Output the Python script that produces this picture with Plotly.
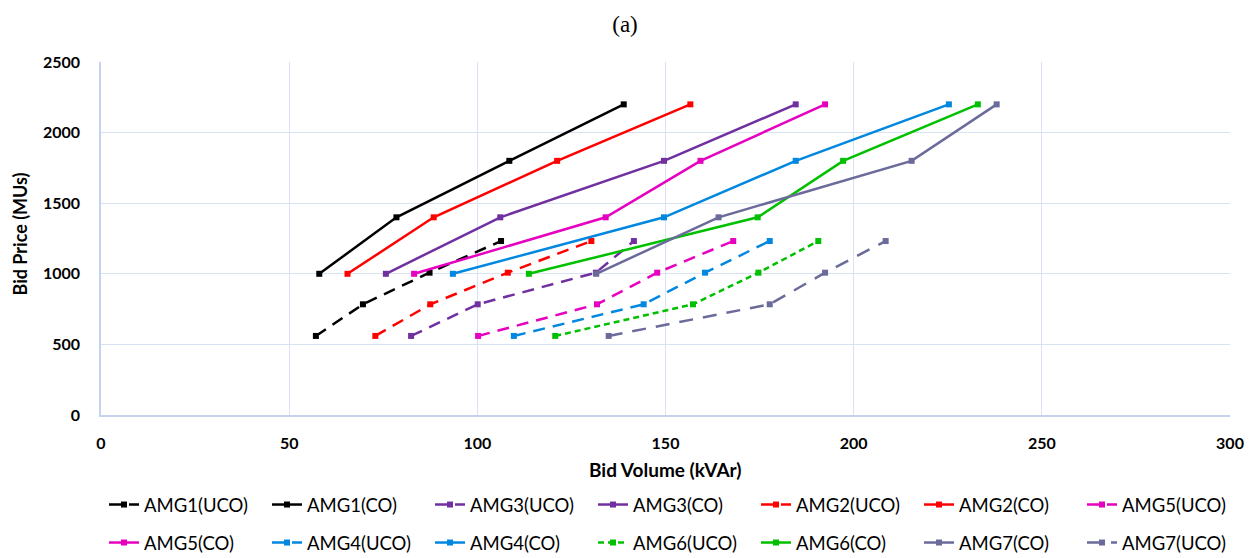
import plotly.graph_objects as go

# Bid price levels
price_co = [1000, 1400, 1800, 2200]
price_uco = [560, 784, 1008, 1232]

# Bid volumes (kVAr)
amg1_uco = [57.1, 69.6, 87.3, 106.3]
amg1_co = [58.0, 78.5, 108.5, 138.9]
amg3_uco = [82.4, 100.1, 131.5, 141.6]
amg3_co = [75.7, 106.1, 149.6, 184.6]
amg2_uco = [72.9, 87.5, 108.1, 130.3]
amg2_co = [65.5, 88.4, 121.2, 156.6]
amg5_uco = [100.2, 131.8, 147.8, 168.0]
amg5_co = [83.2, 134.1, 159.3, 192.4]
amg4_uco = [109.7, 144.2, 160.5, 177.7]
amg4_co = [93.5, 149.6, 184.6, 225.3]
amg6_uco = [120.7, 157.3, 174.7, 190.6]
amg6_co = [113.7, 174.5, 197.2, 233.0]
amg7_co = [131.6, 164.1, 215.4, 238.0]
amg7_uco = [134.9, 177.7, 192.4, 208.5]

BLACK = "#000000"
RED = "#FF0000"
PURPLE = "#7030A0"
MAGENTA = "#E600C0"
BLUE = "#0088E0"
GREEN = "#00C000"
GRAY = "#6B6B9B"

series = [
    ("AMG1(UCO)", amg1_uco, price_uco, BLACK, "12px,8px"),
    ("AMG1(CO)", amg1_co, price_co, BLACK, "solid"),
    ("AMG3(UCO)", amg3_uco, price_uco, PURPLE, "12px,8px"),
    ("AMG3(CO)", amg3_co, price_co, PURPLE, "solid"),
    ("AMG2(UCO)", amg2_uco, price_uco, RED, "12px,8px"),
    ("AMG2(CO)", amg2_co, price_co, RED, "solid"),
    ("AMG5(UCO)", amg5_uco, price_uco, MAGENTA, "12px,8px"),
    ("AMG5(CO)", amg5_co, price_co, MAGENTA, "solid"),
    ("AMG4(UCO)", amg4_uco, price_uco, BLUE, "12px,8px"),
    ("AMG4(CO)", amg4_co, price_co, BLUE, "solid"),
    ("AMG6(UCO)", amg6_uco, price_uco, GREEN, "6px,4px"),
    ("AMG6(CO)", amg6_co, price_co, GREEN, "solid"),
    ("AMG7(CO)", amg7_co, price_co, GRAY, "solid"),
    ("AMG7(UCO)", amg7_uco, price_uco, GRAY, "14px,10px"),
]

# The page body adds an 8px offset; figure is sized to compensate.
W, H = 1245, 550
OFF = 8
PL, PR, PT, PB = 101, 1230, 62, 415   # plot area in page pixels
PW, PH = PR - PL, PB - PT

font_main = "Lato, 'Open Sans', sans-serif"

fig = go.Figure()
legends = {}
for i, (name, xs, ys, color, dash) in enumerate(series):
    key = "legend" if i == 0 else f"legend{i + 1}"
    fig.add_trace(go.Scatter(
        x=xs, y=ys, name=name, mode="lines+markers",
        line=dict(color=color, width=2.5, dash=dash),
        marker=dict(symbol="square", size=6, color=color),
        legend=key,
    ))
    col, row = i % 7, i // 7
    text_x = 145 + 163 * col          # page px where label text starts
    row_y = [505, 543][row]           # page px of row centre
    legends[key] = dict(
        xref="container", yref="container",
        x=(text_x - 41 - OFF) / W, xanchor="left",
        y=1 - (row_y - OFF) / H, yanchor="middle",
        font=dict(size=18.5, family=font_main, color="black"),
        itemwidth=30, bgcolor="rgba(0,0,0,0)",
    )

fig.update_layout(
    width=W, height=H,
    margin=dict(l=PL - OFF, r=W + OFF - PR, t=PT - OFF, b=H + OFF - PB, autoexpand=False),
    paper_bgcolor="white", plot_bgcolor="white",
    title=dict(text="(a)", x=(625 - OFF) / W, xanchor="center", xref="container",
               y=1 - (24 - OFF) / H, yanchor="middle", yref="container",
               font=dict(family="Liberation Serif, serif", size=23, color="black")),
    font=dict(family=font_main, color="black"),
    xaxis=dict(range=[0, 300], dtick=50, showgrid=True, gridcolor="#D9E2F3", gridwidth=1,
               zeroline=False, showline=True, linecolor="#C5D3EE", linewidth=1.5,
               tickfont=dict(size=16, family=font_main, weight="bold"),
               ticklabelstandoff=13, automargin=False, ticks=""),
    yaxis=dict(range=[0, 2500], dtick=500, showgrid=True, gridcolor="#D9E2F3", gridwidth=1,
               zeroline=False, showline=True, linecolor="#C5D3EE", linewidth=1.5,
               tickfont=dict(size=16, family=font_main, weight="bold"),
               ticklabelstandoff=16, automargin=False, ticks=""),
    annotations=[
        dict(text="<b>Bid Volume (kVAr)</b>", xref="paper", yref="paper",
             x=0.5, y=-(469 - PB) / PH, xanchor="center", yanchor="middle",
             showarrow=False, font=dict(size=19, family=font_main, color="black")),
        dict(text="<b>Bid Price (MUs)</b>", xref="paper", yref="paper",
             x=(19.5 - PL) / PW, y=(PB - 234) / PH, xanchor="center", yanchor="middle",
             textangle=-90, showarrow=False, borderpad=0,
             font=dict(size=18, family=font_main, color="black")),
    ],
    showlegend=True,
    **legends,
)

fig.write_html("out.html")
